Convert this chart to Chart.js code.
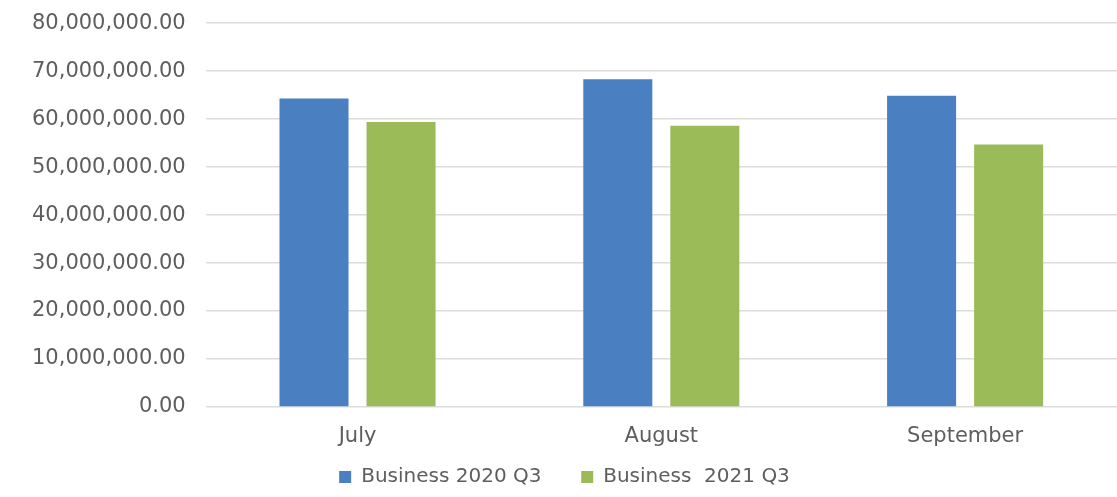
<!DOCTYPE html>
<html>
<head>
<meta charset="utf-8">
<script src="https://cdn.jsdelivr.net/npm/chart.js@4"></script>
<style>
  html, body { margin: 0; padding: 0; background: #fff; }
  #wrap { width: 1117px; height: 497px; }
</style>
</head>
<body>
<div id="wrap"><canvas id="myChart"></canvas></div>
<script>
var months = ["July", "August", "September"];
var business2020 = [64300000, 68300000, 64850000];
var business2021 = [59400000, 58600000, 54700000];
var seriesNames = ["Business 2020 Q3", "Business  2021 Q3"];
var seriesColors = ["#4a7fc1", "#9bbb59"];

Chart.defaults.font.family = "'DejaVu Sans', sans-serif";
Chart.defaults.font.size = 21;
Chart.defaults.color = "#5e5e5e";

new Chart("myChart", {
    type: "bar",
    data: {
        labels: months,
        datasets: [{
            label: seriesNames[0],
            backgroundColor: seriesColors[0],
            data: business2020
        }, {
            label: seriesNames[1],
            backgroundColor: seriesColors[1],
            data: business2021
        }]
    },
    options: {
        responsive: true,
        maintainAspectRatio: false,
        animation: false,
        categoryPercentage: 0.573,
        barPercentage: 0.793,
        layout: { padding: { left: 12, right: 0, top: 0, bottom: 0 } },
        plugins: {
            legend: {
                position: "bottom",
                labels: {
                    boxWidth: 12,
                    boxHeight: 12,
                    padding: 8,
                    font: { size: 20 },
                    generateLabels: function (chart) {
                        var items = Chart.defaults.plugins.legend.labels.generateLabels(chart);
                        items[0].text = items[0].text + "     ";
                        return items;
                    }
                }
            },
            tooltip: { enabled: false }
        },
        scales: {
            x: {
                grid: { display: false },
                border: { display: false },
                ticks: { padding: 1, font: { lineHeight: 2.0 } }
            },
            y: {
                min: 0,
                max: 80000000,
                ticks: {
                    stepSize: 10000000,
                    padding: 20,
                    font: { lineHeight: 0.3 },
                    callback: function (v) {
                        return v.toLocaleString("en-US", { minimumFractionDigits: 2, maximumFractionDigits: 2 });
                    }
                },
                grid: { color: "#dcdcdc", lineWidth: 1.5, drawTicks: false },
                border: { display: false }
            }
        }
    }
});
</script>
</body>
</html>
